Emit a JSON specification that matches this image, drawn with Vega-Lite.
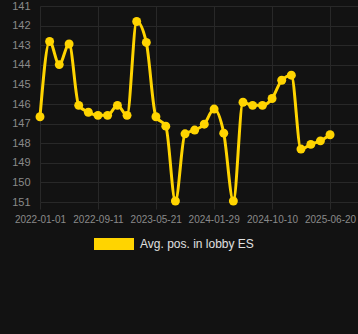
{
  "$schema": "https://vega.github.io/schema/vega-lite/v6.json",
  "width": 318,
  "height": 196,
  "autosize": "none",
  "padding": {"left": 40, "top": 6, "right": 0, "bottom": 132},
  "background": "#121212",
  "config": {"view": {"stroke": null}, "font": "Liberation Sans"},
  "data": {
    "values": [
      {"date": "2022-01-01", "pos": 146.65},
      {"date": "2022-02-12", "pos": 142.81},
      {"date": "2022-03-26", "pos": 143.99},
      {"date": "2022-05-08", "pos": 142.94},
      {"date": "2022-06-19", "pos": 146.07},
      {"date": "2022-07-31", "pos": 146.42},
      {"date": "2022-09-11", "pos": 146.58},
      {"date": "2022-10-23", "pos": 146.58},
      {"date": "2022-12-05", "pos": 146.07},
      {"date": "2023-01-16", "pos": 146.58},
      {"date": "2023-02-27", "pos": 141.79},
      {"date": "2023-04-10", "pos": 142.86},
      {"date": "2023-05-22", "pos": 146.65},
      {"date": "2023-07-04", "pos": 147.13},
      {"date": "2023-08-15", "pos": 150.95},
      {"date": "2023-09-26", "pos": 147.52},
      {"date": "2023-11-07", "pos": 147.33},
      {"date": "2023-12-19", "pos": 147.03},
      {"date": "2024-01-31", "pos": 146.26},
      {"date": "2024-03-13", "pos": 147.49},
      {"date": "2024-04-24", "pos": 150.95},
      {"date": "2024-06-05", "pos": 145.91},
      {"date": "2024-07-17", "pos": 146.07},
      {"date": "2024-08-29", "pos": 146.07},
      {"date": "2024-10-10", "pos": 145.72},
      {"date": "2024-11-21", "pos": 144.79},
      {"date": "2025-01-02", "pos": 144.53},
      {"date": "2025-02-13", "pos": 148.30},
      {"date": "2025-03-28", "pos": 148.06},
      {"date": "2025-05-09", "pos": 147.88},
      {"date": "2025-06-20", "pos": 147.57}
    ]
  },
  "encoding": {
    "x": {
      "field": "date",
      "type": "temporal",
      "scale": {
        "type": "utc",
        "domain": [
          {"year": 2022, "month": 1, "date": 1, "utc": true},
          {"year": 2025, "month": 10, "date": 20, "utc": true}
        ]
      },
      "axis": {
        "values": [
          {"year": 2022, "month": 1, "date": 1, "utc": true},
          {"year": 2022, "month": 9, "date": 11, "utc": true},
          {"year": 2023, "month": 5, "date": 21, "utc": true},
          {"year": 2024, "month": 1, "date": 29, "utc": true},
          {"year": 2024, "month": 10, "date": 10, "utc": true},
          {"year": 2025, "month": 6, "date": 20, "utc": true}
        ],
        "format": "%Y-%m-%d",
        "grid": true,
        "gridColor": "#282828",
        "domain": false,
        "tickColor": "#282828",
        "tickSize": 7,
        "labelPadding": 5,
        "labelColor": "#8a8a8a",
        "labelFontSize": 10,
        "labelOverlap": false,
        "labelFlush": false,
        "title": null
      }
    },
    "y": {
      "field": "pos",
      "type": "quantitative",
      "scale": {"domain": [141, 151], "reverse": true, "nice": false, "zero": false},
      "axis": {
        "values": [141, 142, 143, 144, 145, 146, 147, 148, 149, 150, 151],
        "grid": true,
        "gridColor": "#282828",
        "domain": false,
        "ticks": false,
        "labelPadding": 10,
        "labelColor": "#8a8a8a",
        "labelFontSize": 11,
        "title": null
      }
    },
    "color": {
      "datum": "Avg. pos. in lobby ES",
      "type": "nominal",
      "scale": {"range": ["#FFD400"]},
      "legend": {
        "orient": "none",
        "legendX": 54,
        "legendY": 218,
        "padding": 0,
        "title": null,
        "labelFontSize": 12,
        "labelColor": "#e0e0e0",
        "labelOffset": 6,
        "symbolType": "M-1,-0.3H1V0.3H-1Z",
        "symbolSize": 1600,
        "symbolStrokeWidth": 0,
        "symbolFillColor": "#FFD400",
        "symbolOpacity": 1
      }
    }
  },
  "layer": [
    {"mark": {"type": "line", "interpolate": "monotone", "strokeWidth": 3}},
    {"mark": {"type": "point", "filled": true, "size": 80, "opacity": 1}}
  ]
}
